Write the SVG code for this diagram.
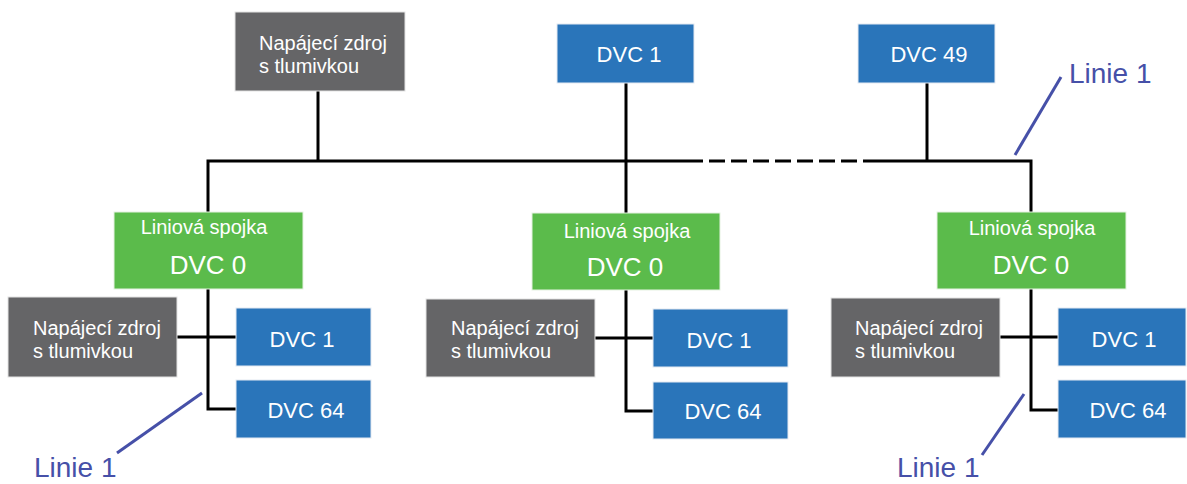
<svg xmlns="http://www.w3.org/2000/svg" width="1187" height="484" viewBox="0 0 1187 484">
  <style>
    .psu { fill: #656567; stroke: #e4e4e4; stroke-width: 1; }
    .dvc { fill: #2a75ba; stroke: #e4eaf2; stroke-width: 1; }
    .cpl { fill: #5bbb4b; stroke: #e6f2e2; stroke-width: 1; }
    .t { font-family: "Liberation Sans", Arial, sans-serif; fill: #ffffff; }
    .t20 { font-size: 20px; }
    .t22 { font-size: 22px; text-anchor: middle; }
    .t26 { font-size: 26px; text-anchor: middle; }
    .mid { text-anchor: middle; }
    .wire { fill: none; stroke: #000000; stroke-width: 3; }
    .dash { stroke-dasharray: 16 6; }
    .lead { fill: none; stroke: #4650a8; stroke-width: 3; }
    .lbl { font-family: "Liberation Sans", Arial, sans-serif; font-size: 28px; fill: #4650a8; }
  </style>

  <!-- bus and branch wiring -->
  <g id="connectors">
    <path class="wire" d="M208 212 V161 H687"/>
    <path class="wire dash" d="M687 161 H866"/>
    <path class="wire" d="M866 161 H1031 V212"/>
    <path class="wire" d="M318 91 V161"/>
    <path class="wire" d="M626 83 V213"/>
    <path class="wire" d="M927 83 V161"/>
    <!-- left line -->
    <path class="wire" d="M208 289 V409 H236"/>
    <path class="wire" d="M177 337 H236"/>
    <!-- middle line -->
    <path class="wire" d="M626 290 V411 H653"/>
    <path class="wire" d="M595 338 H653"/>
    <!-- right line -->
    <path class="wire" d="M1031 289 V410 H1058"/>
    <path class="wire" d="M1000 337 H1058"/>
    <!-- line labels leaders -->
    <path class="lead" d="M202 393 L117 453"/>
    <path class="lead" d="M1061 77 L1015 155"/>
    <path class="lead" d="M1024 394 L982 455"/>
  </g>

  <!-- top row -->
  <g id="psu-top">
    <rect class="psu" x="235" y="12" width="170" height="79"/>
    <text class="t t20" x="259" y="50">Napájecí zdroj</text>
    <text class="t t20" x="259" y="73">s tlumivkou</text>
  </g>
  <g id="dvc1-top">
    <rect class="dvc" x="557" y="24" width="137" height="59"/>
    <text class="t t22" x="629" y="62">DVC 1</text>
  </g>
  <g id="dvc49-top">
    <rect class="dvc" x="858" y="24" width="137" height="59"/>
    <text class="t t22" x="929" y="62">DVC 49</text>
  </g>

  <!-- left line -->
  <g id="coupler-left">
    <rect class="cpl" x="114" y="212" width="189" height="77"/>
    <text class="t t20 mid" x="204" y="234">Liniová spojka</text>
    <text class="t t26" x="208" y="274">DVC 0</text>
  </g>
  <g id="psu-left">
    <rect class="psu" x="8" y="297" width="169" height="80"/>
    <text class="t t20" x="33" y="335">Napájecí zdroj</text>
    <text class="t t20" x="33" y="358">s tlumivkou</text>
  </g>
  <g id="dvc1-left">
    <rect class="dvc" x="236" y="308" width="135" height="58"/>
    <text class="t t22" x="302" y="347">DVC 1</text>
  </g>
  <g id="dvc64-left">
    <rect class="dvc" x="236" y="380" width="135" height="58"/>
    <text class="t t22" x="306" y="418">DVC 64</text>
  </g>

  <!-- middle line -->
  <g id="coupler-mid">
    <rect class="cpl" x="532" y="213" width="188" height="77"/>
    <text class="t t20 mid" x="627" y="238">Liniová spojka</text>
    <text class="t t26" x="625" y="276">DVC 0</text>
  </g>
  <g id="psu-mid">
    <rect class="psu" x="426" y="299" width="169" height="78"/>
    <text class="t t20" x="451" y="335">Napájecí zdroj</text>
    <text class="t t20" x="451" y="358">s tlumivkou</text>
  </g>
  <g id="dvc1-mid">
    <rect class="dvc" x="653" y="309" width="135" height="58"/>
    <text class="t t22" x="719" y="348">DVC 1</text>
  </g>
  <g id="dvc64-mid">
    <rect class="dvc" x="653" y="382" width="135" height="57"/>
    <text class="t t22" x="723" y="419">DVC 64</text>
  </g>

  <!-- right line -->
  <g id="coupler-right">
    <rect class="cpl" x="937" y="212" width="189" height="77"/>
    <text class="t t20 mid" x="1032" y="235">Liniová spojka</text>
    <text class="t t26" x="1031" y="274">DVC 0</text>
  </g>
  <g id="psu-right">
    <rect class="psu" x="831" y="298" width="169" height="79"/>
    <text class="t t20" x="855" y="335">Napájecí zdroj</text>
    <text class="t t20" x="855" y="358">s tlumivkou</text>
  </g>
  <g id="dvc1-right">
    <rect class="dvc" x="1058" y="308" width="128" height="58"/>
    <text class="t t22" x="1124" y="347">DVC 1</text>
  </g>
  <g id="dvc64-right">
    <rect class="dvc" x="1058" y="380" width="128" height="58"/>
    <text class="t t22" x="1128" y="418">DVC 64</text>
  </g>

  <!-- line labels -->
  <g id="labels">
    <text class="lbl" x="1069" y="83">Linie 1</text>
    <text class="lbl" x="34" y="477">Linie 1</text>
    <text class="lbl" x="897" y="477">Linie 1</text>
  </g>
</svg>
